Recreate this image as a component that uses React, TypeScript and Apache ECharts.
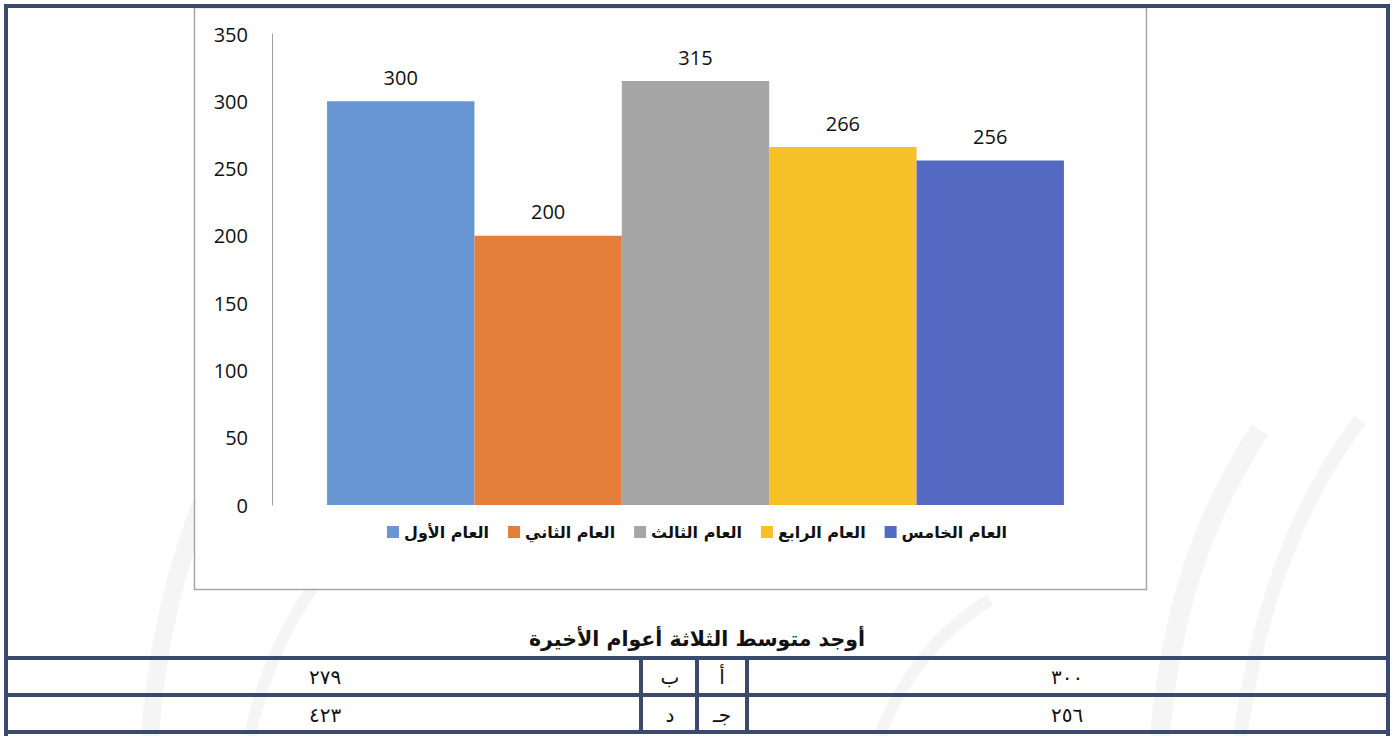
import { useEffect, useRef } from "react";
import * as echarts from "echarts";

const seriesNames = ["العام الأول", "العام الثاني", "العام الثالث", "العام الرابع", "العام الخامس"];
const seriesValues = [300, 200, 315, 266, 256];
const seriesColors = ["#6896D2", "#E37E3B", "#A6A6A6", "#F5C127", "#5469C1"];
const categories = [""];
const yMin = 0;
const yMax = 350;
const yInterval = 50;
const questionText = "أوجد متوسط الثلاثة أعوام الأخيرة";
const rowLeftValues = ["٢٧٩", "٤٢٣"];
const rowLeftLetters = ["ب", "د"];
const rowRightLetters = ["أ", "جـ"];
const rowRightValues = ["٣٠٠", "٢٥٦"];

const NAVY = "#3B4A6C";
const ARABIC_FONT = "'DejaVu Sans', 'Noto Sans', sans-serif";

export default function App() {
  const ref = useRef<HTMLDivElement>(null);
  useEffect(() => {
    if (!ref.current) return;
    const chart = echarts.init(ref.current, undefined, { renderer: "svg" });

    const bar = (x: number, y: number, w: number, h: number) => ({
      type: "rect",
      z: 100,
      shape: { x, y, width: w, height: h },
      style: { fill: NAVY },
      silent: true,
    });

    const wm = (x1: number, y1: number, cx1: number, cy1: number, cx2: number, cy2: number, x2: number, y2: number, w: number) => ({
      type: "bezierCurve",
      z: -30,
      shape: { x1, y1, cpx1: cx1, cpy1: cy1, cpx2: cx2, cpy2: cy2, x2, y2 },
      style: { stroke: "#F5F5F5", lineWidth: w, fill: null },
      silent: true,
    });

    const rowsY = [677, 715];
    const tableTexts: any[] = [];
    const cellFont = `20px ${ARABIC_FONT}`;
    rowsY.forEach((y, i) => {
      tableTexts.push({ type: "text", z: 101, x: 325, y, style: { text: rowLeftValues[i], font: cellFont, fill: "#111", align: "center", verticalAlign: "middle" } });
      tableTexts.push({ type: "text", z: 101, x: 670, y, style: { text: rowLeftLetters[i], font: cellFont, fill: "#111", align: "center", verticalAlign: "middle" } });
      tableTexts.push({ type: "text", z: 101, x: 722, y, style: { text: rowRightLetters[i], font: cellFont, fill: "#111", align: "center", verticalAlign: "middle" } });
      tableTexts.push({ type: "text", z: 101, x: 1067, y, style: { text: rowRightValues[i], font: cellFont, fill: "#111", align: "center", verticalAlign: "middle" } });
    });

    chart.setOption({
      animation: false,
      backgroundColor: "#ffffff",
      grid: { left: 272, right: 275, top: 34, bottom: 231, containLabel: false },
      xAxis: {
        type: "category",
        data: categories,
        axisLine: { show: false },
        axisTick: { show: false },
        axisLabel: { show: false },
      },
      yAxis: {
        type: "value",
        min: yMin,
        max: yMax,
        interval: yInterval,
        axisLine: { show: true, lineStyle: { color: "#A0A0A0", width: 1 } },
        axisTick: { show: false },
        splitLine: { show: false },
        axisLabel: { color: "#111", fontSize: 20, fontFamily: "'Open Sans', sans-serif", margin: 24 },
      },
      legend: {
        top: 519,
        left: "center",
        itemWidth: 12,
        itemHeight: 12,
        itemGap: 19,
        icon: "rect",
        textStyle: { fontSize: 16, fontWeight: "bold", color: "#111", fontFamily: ARABIC_FONT },
        data: seriesNames,
      },
      series: seriesNames.map((name, i) => ({
        type: "bar",
        name,
        data: [seriesValues[i]],
        barGap: "0%",
        barCategoryGap: "13%",
        itemStyle: { color: seriesColors[i] },
        label: {
          show: true,
          position: "top",
          distance: 14,
          color: "#111",
          fontSize: 20,
          fontFamily: "'Open Sans', sans-serif",
        },
      })),
      graphic: [
        wm(150, 736, 160, 600, 200, 480, 260, 390, 18),
        wm(250, 736, 270, 640, 320, 560, 380, 520, 12),
        wm(1160, 736, 1170, 620, 1200, 520, 1260, 430, 20),
        wm(1240, 736, 1260, 600, 1300, 500, 1360, 420, 14),
        wm(880, 736, 900, 680, 940, 630, 990, 600, 12),
        {
          type: "rect",
          z: -10,
          shape: { x: 194.5, y: 7.5, width: 952, height: 582 },
          style: { fill: "#ffffff", stroke: "#A6A6A6", lineWidth: 1.5 },
          silent: true,
        },
        {
          type: "text",
          z: 101,
          x: 697,
          y: 639,
          style: { text: questionText, font: `bold 20.5px ${ARABIC_FONT}`, fill: "#111", align: "center", verticalAlign: "middle" },
        },
        // outer frame
        bar(4, 4, 1386, 4),
        bar(4, 4, 4, 732),
        bar(1386, 4, 4, 732),
        // table horizontal lines
        bar(4, 656, 1386, 4),
        bar(4, 693, 1386, 4),
        bar(4, 730, 1386, 4),
        // table vertical lines
        bar(639, 656, 4, 78),
        bar(695, 656, 4, 78),
        bar(745, 656, 4, 78),
        ...tableTexts,
      ],
    });
    return () => chart.dispose();
  }, []);
  return <div ref={ref} style={{ position: "fixed", left: 0, top: 0, width: 1394, height: 736 }} />;
}
